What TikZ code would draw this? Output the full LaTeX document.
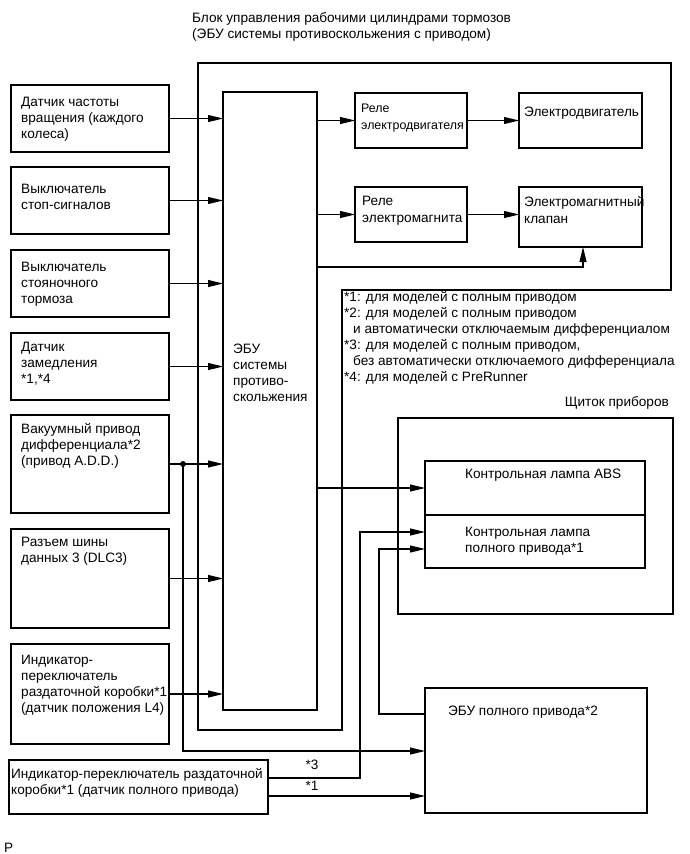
\documentclass[tikz,border=0pt]{standalone}
\usepackage{fontspec}
\setmainfont{Liberation Sans}
\usetikzlibrary{arrows.meta,calc}
\begin{document}
\begin{tikzpicture}[x=1pt,y=-1pt,
  box/.style={draw, line width=1.8pt, inner sep=0pt, outer sep=0pt, anchor=north west},
  txt/.style={inner sep=0pt, anchor=north west, align=left, font=\fontsize{13.6}{16}\selectfont},
  conn/.style={line width=1.1pt},
  arr/.style={conn, -{Triangle[length=15pt,width=7pt]}},
]
\useasboundingbox (0,0) rectangle (690,854);
% title
\node[txt] (title) at (192,12.5) {Блок управления рабочими цилиндрами тормозов\\(ЭБУ системы противоскольжения с приводом)};
% outer actuator frame
\draw[line width=1.8pt] (198,63) -- (671,63) -- (671,290) -- (342,290) -- (342,730) -- (198,730) -- cycle;
% left input boxes
\node[box, minimum width=158pt, minimum height=67pt] (b1) at (11,85) {};
\node[box, minimum width=158pt, minimum height=67pt] (b2) at (11,167) {};
\node[box, minimum width=158pt, minimum height=67pt] (b3) at (11,250) {};
\node[box, minimum width=158pt, minimum height=67pt] (b4) at (11,333) {};
\node[box, minimum width=158pt, minimum height=98pt] (b5) at (11,415) {};
\node[box, minimum width=158pt, minimum height=99pt] (b6) at (11,529) {};
\node[box, minimum width=158pt, minimum height=100pt] (b7) at (11,644) {};
\node[box, minimum width=259pt, minimum height=54pt] (b8) at (9,760) {};
\node[txt] (t1) at (21,96.5) {Датчик частоты\\вращения (каждого\\колеса)};
\node[txt] (t2) at (21,184) {Выключатель\\стоп-сигналов};
\node[txt] (t3) at (21,261.5) {Выключатель\\стояночного\\тормоза};
\node[txt] (t4) at (21,341.5) {Датчик\\замедления\\*1,*4};
\node[txt] (t5) at (21,423.5) {Вакуумный привод\\дифференциала*2\\(привод A.D.D.)};
\node[txt] (t6) at (21,536.5) {Разъем шины\\данных 3 (DLC3)};
\node[txt] (t7) at (21,654.5) {Индикатор-\\переключатель\\раздаточной коробки*1\\(датчик положения L4)};
\node[txt] (t8) at (11,768.5) {Индикатор-переключатель раздаточной\\коробки*1 (датчик полного привода)};
% ECU
\node[box, minimum width=94pt, minimum height=618pt] (ecu) at (223,92) {};
\node[txt] (tecu) at (233,343.5) {ЭБУ\\системы\\противо-\\скольжения};
% relays and actuators
\node[box, minimum width=112pt, minimum height=55pt] (r1) at (355,93) {};
\node[box, minimum width=123pt, minimum height=55pt] (mot) at (519,93) {};
\node[box, minimum width=112pt, minimum height=55pt] (r2) at (355,187) {};
\node[box, minimum width=123pt, minimum height=60pt] (kl) at (519,187) {};
\node[txt, font=\fontsize{12.4}{17.5}\selectfont] (tr1) at (361,103.5) {Реле\\электродвигателя};
\node[txt] (tmot) at (524,106.5) {Электродвигатель};
\node[txt, font=\fontsize{13.6}{17.5}\selectfont] (tr2) at (362,195.5) {Реле\\электромагнита};
\node[txt, font=\fontsize{13.6}{17}\selectfont] (tkl) at (524,196.5) {Электромагнитный\\клапан};
% notes
\node[txt] (notes) at (344,291.5) {*1: для моделей с полным приводом\\*2: для моделей с полным приводом\\\hspace*{9pt}и автоматически отключаемым дифференциалом\\*3: для моделей с полным приводом,\\\hspace*{9pt}без автоматически отключаемого дифференциала\\*4: для моделей с PreRunner};
% instrument panel
\node[txt, anchor=north east] (tpanel) at (669,396.5) {Щиток приборов};
\node[box, minimum width=275pt, minimum height=196pt] (panel) at (398,418) {};
\node[box, minimum width=220pt, minimum height=54pt] (lampA) at (425,461) {};
\node[box, minimum width=220pt, minimum height=53pt] (lampB) at (425,515) {};
\node[txt] (tlA) at (465,468.5) {Контрольная лампа ABS};
\node[txt] (tlB) at (465,526.5) {Контрольная лампа\\полного привода*1};
% 4WD ECU
\node[box, minimum width=222pt, minimum height=125pt] (e4) at (425,688) {};
\node[txt] (te4) at (448,705.5) {ЭБУ полного привода*2};
\node[txt] (tP) at (4,843) {P};
% helper coordinates
\coordinate (yK) at (0,267);
\coordinate (xK) at (583,0);
\coordinate (jx) at (183,0);
\coordinate (y751) at (0,751);
\coordinate (y778) at (0,778);
\coordinate (y796) at (0,796);
\coordinate (y714) at (0,714);
\coordinate (c3) at (360,532);
\coordinate (c1) at (379,549);
% connectors: inputs
\foreach \b in {b1,b2,b3,b4,b5,b6,b7}
  \draw[arr] (\b.east) -- (\b.east -| ecu.west);
% outputs
\draw[arr] (ecu.east |- r1.west) -- (r1.west);
\draw[arr] (r1.east) -- (mot.west);
\draw[arr] (ecu.east |- r2.west) -- (r2.west);
\draw[arr] (r2.east) -- (r2.east -| kl.west);
\draw[arr] (ecu.east |- yK) -| (xK |- kl.south);
\draw[arr] (ecu.east |- lampA.west) -- (lampA.west);
% junction and 4WD connections
\coordinate (jn) at (jx |- b5.east);
\fill (jn) circle (3pt);
\draw[arr] (jn) |- (e4.west |- y751);
\draw[arr] (b8.east |- y778) -| (c3) -- (lampB.west |- c3);
\draw[arr] (b8.east |- y796) -- (e4.west |- y796);
\draw[arr] (e4.west |- y714) -| (c1) -- (lampB.west |- c1);
\node[txt, anchor=center] (l3) at (312,765) {*3};
\node[txt, anchor=center] (l1) at (312,786) {*1};
\end{tikzpicture}
\end{document}
